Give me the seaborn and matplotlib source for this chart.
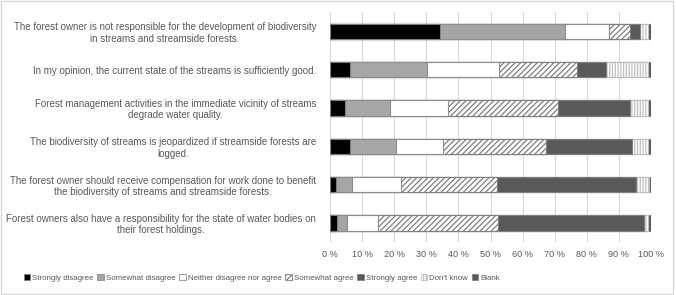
import matplotlib.pyplot as plt
import seaborn as sns
from matplotlib.patches import Patch, Rectangle

# Statements (rows, top to bottom)
statements = [
    "The forest owner is not responsible for the development of biodiversity\nin streams and streamside forests.",
    "In my opinion, the current state of the streams is sufficiently good.",
    "Forest management activities in the immediate vicinity of streams\ndegrade water quality.",
    "The biodiversity of streams is jeopardized if streamside forests are\nlogged.",
    "The forest owner should receive compensation for work done to benefit\nthe biodiversity of streams and streamside forests.",
    "Forest owners also have a responsibility for the state of water bodies on\ntheir forest holdings.",
]

responses = ["Strongly disagree", "Somewhat disagree", "Neither disagree nor agree",
             "Somewhat agree", "Strongly agree", "Don't know", "Blank"]

# shares in % per response, one value per statement
strongly_disagree = [34.4, 6.2, 4.6, 6.2, 1.9, 2.1]
somewhat_disagree = [38.8, 24.0, 14.1, 14.3, 4.9, 3.2]
neither = [13.6, 22.3, 18.0, 14.7, 15.2, 9.5]
somewhat_agree = [6.6, 24.6, 34.3, 32.2, 30.1, 37.6]
strongly_agree = [3.1, 9.0, 22.5, 26.8, 43.3, 45.5]
dont_know = [2.6, 13.1, 5.7, 5.0, 4.0, 1.1]
blank = [0.8, 0.7, 0.8, 0.7, 0.7, 1.0]

series = [strongly_disagree, somewhat_disagree, neither, somewhat_agree,
          strongly_agree, dont_know, blank]

fills = ["#000000", "#a6a6a6", "#ffffff", "#ffffff", "#595959", "#ffffff", "#595959"]
edges = ["#7f7f7f", "#8c8c8c", "#8c8c8c", "#7f7f7f", "#7f7f7f", "#bfbfbf", "#7f7f7f"]
hatches = [None, None, None, "//////", None, "||||||", None]

plt.rcParams["font.family"] = ["Liberation Sans", "DejaVu Sans"]
plt.rcParams["hatch.linewidth"] = 0.9
text_col = "#595959"

fig = plt.figure(figsize=(6.76, 2.95), dpi=100)
ax = fig.add_axes([330 / 676, 1 - 242 / 295, 321 / 676, 230 / 295])

# cumulative totals, drawn longest first so they stack
totals = []
run = [0.0] * len(statements)
for s in series:
    run = [a + b for a, b in zip(run, s)]
    totals.append(run)

for i in reversed(range(len(series))):
    sns.barplot(x=totals[i], y=statements, order=statements, orient="h",
                color=fills[i], saturation=1, width=0.4,
                edgecolor=edges[i], linewidth=0.8, hatch=hatches[i], ax=ax)

ax.set_xlim(0, 100)
ax.set_ylim(5.5, -0.5)
ax.set_xticks(range(0, 101, 10))
ax.set_xticklabels([f"{v} %" for v in range(0, 101, 10)])
ax.grid(axis="x", color="#d9d9d9", linewidth=0.8)
ax.set_axisbelow(True)
for sp in ax.spines.values():
    sp.set_visible(False)
ax.tick_params(length=0, labelsize=6.6, colors=text_col)
ax.tick_params(axis="y", labelsize=7.0, pad=10)
ax.tick_params(axis="x", pad=6)
for t in ax.get_yticklabels():
    t.set_multialignment("center")
ax.set_xlabel("")
ax.set_ylabel("")

handles = [Patch(facecolor=fills[i], edgecolor=edges[i], hatch=hatches[i], linewidth=0.6)
           for i in range(len(responses))]
fig.legend(handles, responses, loc="center", bbox_to_anchor=(262 / 676, 1 - 278 / 295),
           ncol=7, frameon=False, labelcolor=text_col, fontsize=5.7,
           handlelength=0.8, handleheight=0.8, handletextpad=0.25, columnspacing=0.5)

# light frame around the whole chart
fig.patches.append(Rectangle((0.002, 0.004), 0.994, 0.992, transform=fig.transFigure,
                             fill=False, edgecolor="#d9d9d9", linewidth=1))

fig.savefig("out.png", dpi=100)
